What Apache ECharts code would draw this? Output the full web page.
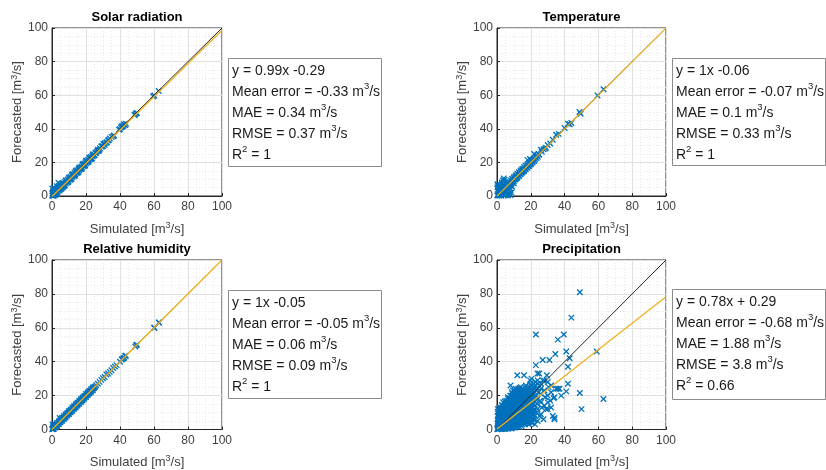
<!DOCTYPE html>
<html>
<head>
<meta charset="utf-8">
<script src="https://cdn.jsdelivr.net/npm/echarts@6/dist/echarts.min.js"></script>
<style>
html,body{margin:0;padding:0;background:#fff;}
#chart{width:826px;height:470px;}
</style>
</head>
<body>
<div id="chart"></div>
<script>
// ---------- DATA ----------
const panelTitles = ['Solar radiation', 'Temperature', 'Relative humidity', 'Precipitation'];
const axisTicks = [0, 20, 40, 60, 80, 100];
const fitSlope = [0.99, 1, 1, 0.78];
const fitIntercept = [-0.29, -0.06, -0.05, 0.29];
const fitLabels = ['y = 0.99x -0.29', 'y = 1x -0.06', 'y = 1x -0.05', 'y = 0.78x + 0.29'];
const meanError = ['-0.33', '-0.07', '-0.05', '-0.68'];
const maeVals = ['0.34', '0.1', '0.06', '1.88'];
const rmseVals = ['0.37', '0.33', '0.09', '3.8'];
const r2Vals = ['1', '1', '1', '0.66'];

const solarPts = [[0.1,0.2],[0.3,1.5],[0.5,0.2],[0.6,2.8],[0.9,0.5],[1.2,1.8],[1.5,0.9],[1.8,2.6],[2.1,1.5],[2.4,3.3],[2.7,2.2],[3,4.1],[3.3,2.6],[3.6,3.9],[4,3.2],[4.3,5.5],[4.6,7.2],[4.9,4.1],[5.3,5.9],[5.7,4.9],[6.1,6.6],[6.5,5.8],[6.9,7.4],[7.3,6.7],[7.7,8.3],[8.1,7.4],[8.5,9.1],[8.9,8.1],[9.3,9.8],[9.7,8.9],[10.1,10.6],[10.5,9.7],[10.9,11.3],[11.3,10.5],[11.7,12.2],[12.1,11.3],[12.5,12.9],[12.9,12.1],[13.3,13.8],[13.7,12.9],[14.1,14.5],[14.5,13.7],[14.9,15.3],[15.3,14.6],[15.7,16.1],[16.1,15.3],[16.5,16.9],[16.9,16.2],[17.3,17.6],[17.7,17.0],[18.1,18.5],[18.5,17.8],[18.9,19.2],[19.3,18.7],[19.7,20.1],[20.1,19.4],[20.5,20.8],[20.9,20.3],[21.3,21.6],[21.7,21.1],[22.1,22.4],[22.5,21.9],[22.9,23.2],[23.3,22.7],[23.7,23.9],[24.1,23.6],[24.5,24.8],[24.9,24.3],[25.5,25.6],[26.3,26.4],[27,27.6],[27.6,26.9],[28.2,28.4],[29.5,29.6],[30.2,31],[31,30.4],[32.3,32],[33.5,33.4],[35,35.2],[36,35.6],[39.5,39.4],[40.6,40.8],[41.5,41.2],[42.3,42.7],[43,42.3],[48.5,48.2],[49.6,49.3],[59.5,59.4],[60.2,59.8],[62.8,62.5]];
const solarExtra = [[0.5,1],[1,2.2],[1.5,3.4],[2,3],[2.5,1.2],[3,2],[3.5,5],[4,6],[5,6.8],[4.5,3.6],[5.5,4.3],[6,7.5],[7,6],[8,9.3],[9,8.4],[10,11],[11,10],[12,12.9],[13,12],[14,15],[15,14],[16,16.8],[17,16],[18,19],[19,18],[20,21],[21,20],[22,22.9],[23,22],[24,24.8],[25,24.3],[26,25.6],[27,26.8],[28,27.6],[29,29.5],[30,29.6],[31,31.4],[32,31.7],[33,33],[34,34.2],[36.5,36],[40,39.8],[41,41.5],[42,41.8],[43.5,43],[49,48.7],[50,49.5],[1,0.1],[2,0.6],[3,1.2],[6.3,5.1],[7.5,6.2],[9.5,8.2],[11.5,10.2],[13.5,12.2],[15.5,14.1],[17.5,16.2],[19.5,18.2],[21.5,20.3],[23.5,22.3],[0.2,4.5],[1.3,5],[2.8,5.8],[3.8,7.8]];

const tempPts = [[0.2,7],[0.6,6.2],[1,5],[1.5,4.2],[4,10.5],[4.4,9.6],[2.5,0.2],[5,0.4],[6.5,0.3],[7.2,1.2],[8,0.6],[3,6.5],[2,5.8],[6,3],[7.8,4.6],[9,5.5],[5.5,2],[10,7.5],[0.2,0.3],[0.5,1.2],[0.9,0.4],[1.3,2],[1.7,1.1],[2.1,2.6],[2.5,1.8],[2.9,3.3],[3.3,2.6],[3.7,4.1],[4.1,3.4],[4.5,4.9],[4.9,4.2],[5.3,5.7],[5.7,5],[6.1,6.5],[6.5,5.8],[6.9,7.3],[7.3,6.6],[7.7,8.1],[8.1,7.4],[8.5,8.9],[8.9,8.2],[9.3,9.7],[9.7,9],[10.1,10.5],[10.5,9.8],[10.9,11.3],[11.3,10.6],[11.7,12.1],[12.1,11.4],[12.5,12.9],[12.9,12.2],[13.3,13.7],[13.7,13],[14.1,14.5],[14.5,13.8],[14.9,15.3],[15.3,14.6],[15.7,16.1],[16.1,15.4],[16.5,16.9],[16.9,16.2],[17.3,17.7],[17.7,17],[18,21.5],[18.1,18.5],[18.5,17.8],[18.9,19.3],[19.3,18.6],[19.5,22],[19.7,20.1],[20.1,19.4],[20.5,20.9],[20.9,20.2],[21.3,21.7],[21.7,21],[22,25],[22.1,22.5],[22.5,21.8],[22.9,23.3],[23.3,22.6],[23.7,24.1],[24.1,23.4],[24.5,24.9],[25,24.6],[26,27.5],[26.5,26.3],[27.5,27.8],[28.5,28.2],[29,28.8],[30,30.4],[31.5,31.2],[33,33.5],[35,36.5],[36.5,37],[40,40.5],[42,43],[43,42.7],[44,43.5],[48.8,50],[49.5,49],[59.5,59.8],[63,63.5]];
const tempExtra = [[0.5,3],[1,2.5],[1.8,3.6],[2.3,4.4],[3.2,4.6],[4.2,5.6],[5,6.4],[6,7.4],[7,8.3],[8,9.3],[9,10.3],[10,11.2],[11,12.2],[12,13.2],[13,14.1],[14,15.2],[15,16.1],[16,17.2],[17,18.1],[1.5,0.2],[3.5,1.5],[4.5,2.5],[6.5,4.8],[7.5,5.9],[8.5,7],[10,8.7],[11,9.8],[12,10.8],[13,11.9],[14,12.9],[15,13.9],[16,14.9],[17,15.9],[18,16.9],[19,17.9],[20,18.9],[21,19.9],[22,20.9],[0.3,5.2],[2.8,8],[3.5,9.2],[8.5,2],[6.8,1.8],[4,0.4]];

const humPts = [[0.3,3],[0.8,2.4],[4.5,6.8],[0.1,0.1],[0.4,0.5],[0.7,0.4],[1,1.1],[1.4,1.3],[1.8,1.9],[2.2,2.1],[2.6,2.7],[3,2.9],[3.4,3.5],[3.8,3.7],[4.2,4.3],[4.6,4.5],[5,5.1],[5.4,5.3],[5.8,5.9],[6.2,6.1],[6.6,6.7],[7,6.9],[7.4,7.5],[7.8,7.7],[8.2,8.3],[8.6,8.5],[9,9.1],[9.4,9.3],[9.8,9.9],[10.2,10.1],[10.6,10.7],[11,10.9],[11.4,11.5],[11.8,11.7],[12.2,12.3],[12.6,12.5],[13,13.1],[13.4,13.3],[13.8,13.9],[14.2,14.1],[14.6,14.7],[15,14.9],[15.4,15.5],[15.8,15.7],[16.2,16.3],[16.6,16.5],[17,17.1],[17.4,17.3],[17.8,17.9],[18.2,18.1],[18.6,18.7],[19,18.9],[19.4,19.5],[19.8,19.7],[20.2,20.3],[20.6,20.5],[21,21.1],[21.4,21.3],[21.8,21.9],[22.2,22.1],[22.6,22.7],[23,22.9],[23.4,23.5],[23.8,23.7],[24.2,24.3],[24.6,24.5],[25,25.1],[26,26.2],[27,27],[28,28.1],[29,29.3],[31,31],[32,32.4],[33,33],[35,35],[37,37.2],[38,38],[40,40],[41.5,41.5],[42.5,42.4],[43.5,43.6],[49,49],[50,50],[60,60],[63,63]];
const humExtra = [[0.5,1.4],[1.2,2],[2,2.9],[3,3.8],[4,4.9],[5,5.9],[6,6.9],[7,7.9],[8,8.9],[9,9.8],[10,10.9],[11,11.8],[12,12.9],[13,13.8],[14,14.9],[15,15.8],[16,16.9],[17,17.8],[18,18.9],[19,19.8],[20,20.9],[21,21.8],[22,22.8],[23,23.8],[24,24.8],[1,0.2],[2,1.1],[3,2.1],[4,3.1],[5,4.2],[6,5.1],[7,6.2],[8,7.1],[9,8.2],[10,9.1],[11,10.2],[12,11.1],[13,12.2],[14,13.1],[15,14.2],[16,15.1],[17,16.2],[18,17.1],[19,18.2],[20,19.1],[21,20.2],[22,21.2],[23,22.2],[24,23.2],[25.5,25.4],[30,30.2],[34,34],[36,36.3],[41,41.3],[42,42],[43,43.4],[49.5,49.8],[60.3,60],[62.8,63.2]];

const precPts = [[0.2,0.1],[0.5,1],[0.8,2.5],[1,0.3],[1.2,4],[1.5,1.8],[1.8,6],[2,0.5],[2.2,3],[2.5,8],[0.3,3.5],[0.6,5],[1,7],[1.4,9],[0.4,10.5],[2.8,1.2],[2.4,5.5],[1.7,11],
[3,0.2],[3.2,2],[3.5,4.5],[3.8,7],[3,9.5],[3.4,12],[4,1],[4.2,3.5],[4.5,6],[4.8,8.5],[4,11],[4.4,14],[4.6,16.5],[5,0.5],[5.2,2.8],[5.5,5],[5.3,10],[5,13],[5.6,15.5],[3.6,16],[2.8,14.5],
[6,1.5],[6.2,4],[6.5,7],[6.3,9.5],[6.8,12],[6,15],[6.6,18],[7,0.8],[7.3,3],[7.5,5.5],[7.2,8],[7.6,11],[7,14],[7.4,17],[7.8,20],[8,2],[8.3,4.5],[8.5,7.5],[8.2,10],[8.6,13],[8.1,16],[8,26],[8.8,22],
[9,1],[9.3,3.5],[9.5,6],[9.2,9],[9.7,12],[9.4,15],[9.8,18.5],[9.1,21],[10,2.5],[10.3,5],[10.5,8],[10.2,11],[10.6,14],[10.1,17],[10.8,20],[10.4,23],[11,1.5],[11.3,4],[11.5,7],[11.2,10],[11.7,13],[11.4,16],[11.8,19],[11.1,24],
[12,3],[12.3,6],[12.5,9],[12.2,12],[12.8,15],[12.4,18],[12,21],[12,32],[12.6,24],[13,2],[13.3,5],[13.5,8],[13.2,11],[13.7,14],[13.4,17],[13.8,20],[13.1,23],[14,4],[14.3,7],[14.5,10],[14.2,13],[14.7,16],[14.4,19],[14.8,22],[14.1,25],
[15,3],[15.3,6],[15.5,9.5],[15.2,12],[15.8,15],[15.4,18],[15.9,21],[15.1,24],[16,32],[16.3,5],[16.5,8],[16.2,11],[16.7,14],[16.4,17],[16.8,20],[16.1,23],[17,4],[17.3,7],[17.5,10],[17.2,13],[17.7,16],[17.4,19],[17.8,22],[17.1,26],
[18,5],[18.3,8.5],[18.5,12],[18.2,15],[18.7,18],[18.4,21],[18.8,24],[19,3],[19.3,6],[19.5,10],[19.2,14],[19.7,17],[19.4,20],[19.8,27],[20,7],[20.3,11],[20.5,15],[20.2,19],[20.7,23],[20.4,30],[19.6,29],
[21,4],[21.5,9],[21.2,13],[21.8,17],[21.4,21],[21.9,25],[22,6],[22.3,12],[22.6,18],[22.2,24],[22.8,28],[23,56],[23,38],[23.5,10],[23.3,20],[23.8,15],[24,33],[24.5,22],[24.2,27],[25,33],[25.5,17],[25.2,8],[26,24],[26.5,13],[27,41],[27,29],[27.5,6],[28,29],[28.5,19],[29,12],[29.5,32],[30,12],[30,20],[30.5,25],[31,41],[31.5,17],[32,22],[33,8],[33.5,18.5],[34,19],[34,7],[34,6],[34.5,44.5],[35,24],[36,53],[36,24],[37,24],[38,20],[39.5,56],[41,46],[41,22.5],[42,27],[42,37],[43,42],[44,66],[49,81],[49,21.5],[50,12],[59,46],[63,18]];
const precDense = [[0.5,0.5],[0.5,2],[0.5,4],[0.5,6],[0.5,8],[0.5,12],[1.5,0.8],[1.5,2.8],[1.5,5],[1.5,7.5],[1.5,10],[1.5,13],
[2.5,0.3],[2.5,2.2],[2.5,4],[2.5,6.5],[2.5,9],[2.5,11.5],[2.5,13],[3.5,1.5],[3.5,3],[3.5,5.5],[3.5,8],[3.5,10.5],[3.5,14],
[4.5,0.3],[4.5,2],[4.5,4.5],[4.5,7],[4.5,9.5],[4.5,12.5],[4.5,15],[5.5,1],[5.5,3.5],[5.5,6.5],[5.5,8],[5.5,11],[5.5,14],[5.5,17],
[6.5,0.4],[6.5,2.5],[6.5,5],[6.5,8.5],[6.5,11],[6.5,13.5],[6.5,16.5],[6.5,19],[7.5,1.5],[7.5,4],[7.5,6.5],[7.5,9.5],[7.5,12.5],[7.5,15.5],[7.5,18.5],
[8.5,0.5],[8.5,3],[8.5,6],[8.5,9],[8.5,11.5],[8.5,14.5],[8.5,17.5],[8.5,20],[9.5,2],[9.5,4.5],[9.5,7.5],[9.5,10.5],[9.5,13.5],[9.5,16.5],[9.5,19.5],[9.5,23],
[10.5,1],[10.5,3.5],[10.5,6.5],[10.5,9.5],[10.5,12.5],[10.5,15.5],[10.5,18.5],[10.5,21.5],[11.5,2.5],[11.5,5.5],[11.5,8.5],[11.5,11.5],[11.5,14.5],[11.5,17.5],[11.5,21],[11.5,22.5],
[12.5,1.5],[12.5,4.5],[12.5,7.5],[12.5,10.5],[12.5,13.5],[12.5,16.5],[12.5,19.5],[12.5,22],[13.5,3],[13.5,6.5],[13.5,9.5],[13.5,12.5],[13.5,15.5],[13.5,18.5],[13.5,21.5],[13.5,24.5],
[14.5,2],[14.5,5.5],[14.5,8.5],[14.5,11.5],[14.5,14.5],[14.5,17.5],[14.5,20.5],[14.5,23.5],[15.5,4],[15.5,7],[15.5,10.5],[15.5,13.5],[15.5,16.5],[15.5,19.5],[15.5,22.5],
[16.5,3],[16.5,6.5],[16.5,9.5],[16.5,12.5],[16.5,15.5],[16.5,18.5],[16.5,21.5],[16.5,25],[17.5,5],[17.5,8.5],[17.5,11.5],[17.5,14.5],[17.5,17.5],[17.5,20.5],[17.5,23.5],
[18.5,3.5],[18.5,6.5],[18.5,10],[18.5,13.5],[18.5,16.5],[18.5,19.5],[18.5,23],[19.5,5],[19.5,8],[19.5,12],[19.5,15.5],[19.5,18.5],[19.5,21.5],[19.5,25],
[20.5,4],[20.5,9],[20.5,13],[20.5,17],[20.5,21],[20.5,25.5],[21.5,6],[21.5,11],[21.5,15],[21.5,19],[21.5,23],[21.5,27],[22.5,3],[22.5,8],[22.5,14],[22.5,20],[22.5,26],
[24,5],[24,12],[24,18],[24,24],[24,29],[26,9],[26,16],[26,21],[26,27],[28,14],[28,23],[30,16],[30,28],[32,13],[32,26]];

const panelPoints = [solarPts.concat(solarExtra), tempPts.concat(tempExtra), humPts.concat(humExtra), precPts.concat(precDense)];

// ---------- LAYOUT ----------
const grids = [
  {left: 52, top: 28, width: 170, height: 168},
  {left: 497, top: 28, width: 169, height: 168},
  {left: 52, top: 260, width: 170, height: 170},
  {left: 497, top: 260, width: 169, height: 170}
];
const boxes = [
  {x: 228, y: 58, w: 153, h: 108},
  {x: 672, y: 58, w: 153, h: 107},
  {x: 228, y: 290, w: 153, h: 108},
  {x: 672, y: 289, w: 153, h: 110}
];

const FONT = '"Liberation Sans", Arial, Helvetica, sans-serif';
const AXC = '#262626';
const BLUE = '#0072BD';
const ORANGE = '#EDB120';
const XMARK = 'path://M0,0L10,10M10,0L0,10';

const nameRich = {
  n: {fontSize: 13, color: '#404040', fontFamily: FONT, lineHeight: 16},
  s: {fontSize: 9, color: '#404040', fontFamily: FONT, lineHeight: 10, verticalAlign: 'top'}
};

function axisCommon(gi, isX) {
  return {
    type: 'value', gridIndex: gi, min: 0, max: 100, interval: 20,
    name: isX ? '{n|Simulated [m}{s|3}{n|/s]}' : '{n|Forecasted [m}{s|3}{n|/s]}',
    nameLocation: 'middle',
    nameGap: isX ? 25 : 23,
    nameTextStyle: {rich: nameRich},
    axisLine: {show: true, lineStyle: {color: AXC, width: 1}},
    axisTick: {show: true, inside: true, length: 3, lineStyle: {color: AXC}},
    axisLabel: {color: '#404040', fontSize: 12, fontFamily: FONT, margin: isX ? 5 : 4},
    splitLine: {show: true, lineStyle: {color: '#e0e0e0', width: 1}},
    minorTick: {show: false, splitNumber: 4},
    minorSplitLine: {show: true, lineStyle: {color: '#e8e8e8', width: 1, type: [1, 2]}}
  };
}

const xAxes = [], yAxes = [], series = [], graphics = [];
grids.forEach((g, i) => {
  xAxes.push(axisCommon(i, true));
  yAxes.push(axisCommon(i, false));
  series.push({
    type: 'scatter', xAxisIndex: i, yAxisIndex: i,
    data: panelPoints[i], symbol: XMARK, symbolSize: 5.5,
    itemStyle: {color: 'rgba(0,0,0,0)', borderColor: BLUE, borderWidth: 1.3, opacity: 1},
    silent: true, animation: false, large: false
  });
  series.push({
    type: 'line', xAxisIndex: i, yAxisIndex: i,
    data: [[0, 0], [100, 100]], symbol: 'none',
    lineStyle: {color: '#262626', width: 1}, clip: true, animation: false, silent: true
  });
  series.push({
    type: 'line', xAxisIndex: i, yAxisIndex: i,
    data: [[0, fitIntercept[i]], [100, 100 * fitSlope[i] + fitIntercept[i]]], symbol: 'none',
    lineStyle: {color: ORANGE, width: 1.3}, clip: true, animation: false, silent: true
  });
  // panel title
  graphics.push({
    type: 'text', x: g.left + g.width / 2, y: g.top - 11,
    style: {text: panelTitles[i], font: 'bold 13px ' + FONT, fill: '#000',
      align: 'center', verticalAlign: 'middle', textAlign: 'center', textVerticalAlign: 'middle'}
  });
  // stats box
  const b = boxes[i];
  graphics.push({
    type: 'rect', shape: {x: b.x + 0.5, y: b.y + 0.5, width: b.w, height: b.h},
    style: {fill: '#fff', stroke: '#8c8c8c', lineWidth: 1}, z: 10
  });
  const txt = [
    '{t|' + fitLabels[i] + '}',
    '{t|Mean error = ' + meanError[i] + ' m}{s|3}{t|/s}',
    '{t|MAE = ' + maeVals[i] + ' m}{s|3}{t|/s}',
    '{t|RMSE = ' + rmseVals[i] + ' m}{s|3}{t|/s}',
    '{t|R}{s|2}{t| = ' + r2Vals[i] + '}'
  ].join('\n');
  graphics.push({
    type: 'text', x: b.x + 4, y: b.y + 2.5, z: 11,
    style: {
      text: txt,
      rich: {
        t: {fontSize: 14, fontFamily: FONT, fill: '#1a1a1a', color: '#1a1a1a', lineHeight: 21},
        s: {fontSize: 9.5, fontFamily: FONT, fill: '#1a1a1a', color: '#1a1a1a', lineHeight: 14, verticalAlign: 'top'}
      }
    }
  });
});

const chart = echarts.init(document.getElementById('chart'), null, {renderer: 'canvas'});
chart.setOption({
  backgroundColor: '#fff',
  animation: false,
  grid: grids.map(g => Object.assign({show: true, borderColor: AXC, borderWidth: 1, backgroundColor: '#fff', containLabel: false}, g)),
  xAxis: xAxes,
  yAxis: yAxes,
  series: series,
  graphic: graphics
});
</script>
</body>
</html>
